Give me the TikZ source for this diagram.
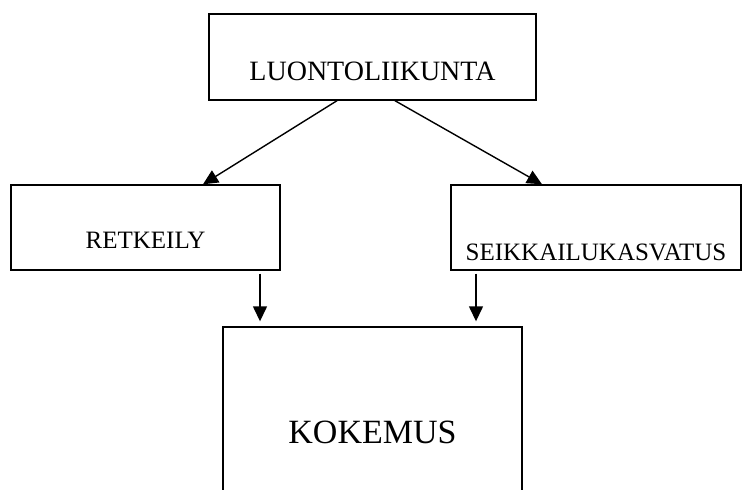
\documentclass[tikz,border=0pt]{standalone}
\usepackage{fontspec}
\setmainfont{Liberation Serif}
\usetikzlibrary{arrows.meta}
\tikzset{box/.style={draw, rectangle, inner sep=0pt, text depth=0pt}}

\begin{document}
\begin{tikzpicture}[x=1pt, y=-1pt, >={Triangle[width=14pt,length=15pt]}, line width=1.4pt]
\clip (0,0) rectangle (742,490);
\node[box, minimum width=327pt, minimum height=86pt, text height=46pt, font=\fontsize{28}{30}\selectfont] (luonto) at (372.5,57) {LUONTOLIIKUNTA};
\node[box, minimum width=269pt, minimum height=85pt, text height=41pt, font=\fontsize{25}{27}\selectfont] (retkeily) at (145.5,227.5) {RETKEILY};
\node[box, minimum width=290pt, minimum height=85pt, text height=65pt, font=\fontsize{25}{27}\selectfont] (seikkailu) at (596,227.5) {SEIKKAILUKASVATUS};
\node[box, minimum width=299pt, minimum height=232pt, text height=12pt, text depth=12pt, font=\fontsize{34}{36}\selectfont] (kokemus) at (372.5,443) {KOKEMUS};
\draw [->] ([xshift=-35.5pt]luonto.south) -- ([xshift=57.5pt]retkeily.north);
\draw [->] ([xshift=22.5pt]luonto.south) -- ([xshift=-54pt]seikkailu.north);
\draw [->] ([xshift=114.5pt, yshift=-3pt]retkeily.south) -- ([xshift=-112.5pt, yshift=5pt]kokemus.north);
\draw [->] ([xshift=-120pt, yshift=-3pt]seikkailu.south) -- ([xshift=103.5pt, yshift=5pt]kokemus.north);
\end{tikzpicture}
\end{document}
